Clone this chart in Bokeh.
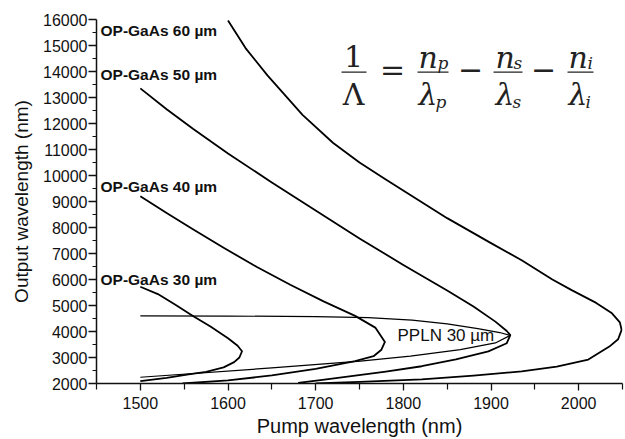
from bokeh.plotting import figure
from bokeh.models import Label, FixedTicker, Range1d
from bokeh.embed import file_html
from bokeh.resources import INLINE

# ---------------- data ----------------
x_ticks = [1500, 1600, 1700, 1800, 1900, 2000]
x_minor = [1450, 1550, 1650, 1750, 1850, 1950, 2050]
y_ticks = list(range(2000, 16001, 1000))
y_minor = list(range(2500, 16000, 1000))

gaas30_pump = [1500, 1520, 1540, 1560, 1580, 1600, 1611, 1616, 1613, 1607, 1595, 1575, 1555, 1530, 1500]
gaas30_out = [5720, 5440, 5030, 4600, 4190, 3740, 3450, 3240, 3000, 2820, 2620, 2450, 2350, 2220, 2090]

gaas40_pump = [1500, 1530, 1560, 1595, 1633, 1671, 1709, 1745, 1768, 1779, 1775, 1766, 1745, 1700, 1650, 1600, 1548]
gaas40_out = [9200, 8560, 7930, 7220, 6480, 5800, 5160, 4600, 4150, 3600, 3300, 3050, 2860, 2560, 2310, 2120, 2000]

gaas50_pump = [1500, 1530, 1560, 1600, 1650, 1700, 1750, 1800, 1850, 1880, 1905, 1918, 1922,
               1918, 1897, 1860, 1821, 1780, 1745, 1710, 1680]
gaas50_out = [13350, 12550, 11800, 10850, 9730, 8650, 7580, 6560, 5580, 4960, 4380, 4020, 3860,
              3550, 3237, 2930, 2664, 2460, 2305, 2150, 2020]

gaas60_pump = [1600, 1620, 1645, 1685, 1720, 1750, 1780, 1850, 1900, 1935, 1970, 1992, 2020, 2038,
               2047, 2049, 2045, 2035, 2011, 1975, 1935, 1880, 1821, 1750, 1700]
gaas60_out = [15960, 14900, 13850, 12330, 11250, 10500, 9850, 8360, 7400, 6740, 6000, 5590, 5100, 4700,
              4350, 4060, 3700, 3420, 2920, 2650, 2470, 2300, 2160, 2060, 2000]

ppln30_pump = [1500, 1600, 1700, 1760, 1810, 1850, 1885, 1910, 1922, 1905, 1865, 1808, 1751, 1650, 1500]
ppln30_out = [4600, 4595, 4570, 4530, 4440, 4290, 4110, 3960, 3850, 3560, 3300, 3050, 2860, 2600, 2240]

curve_labels = ["OP-GaAs 60 µm", "OP-GaAs 50 µm", "OP-GaAs 40 µm", "OP-GaAs 30 µm"]
ppln_label = "PPLN 30 µm"

# ---------------- figure ----------------
X0, X1, Y0, Y1 = 1450, 2050, 2000, 16000
W, H = 625, 439
FL, FR, FT, FB = 96, 622, 19, 386  # frame edges in canvas pixels


def px_x(px):
    return X0 + (px - FL) * (X1 - X0) / (FR - FL)


def px_y(py):
    return Y0 + (FB - py) * (Y1 - Y0) / (FB - FT)


p = figure(width=W, height=H, x_range=Range1d(X0, X1), y_range=Range1d(Y0, Y1),
           output_backend="svg", toolbar_location=None,
           min_border_left=FL, min_border_right=W - FR, min_border_top=FT, min_border_bottom=H - FB)
p.outline_line_color = None
p.xgrid.visible = False
p.ygrid.visible = False
p.background_fill_color = "white"
p.border_fill_color = "white"

p.xaxis.ticker = FixedTicker(ticks=x_ticks, minor_ticks=x_minor)
p.yaxis.ticker = FixedTicker(ticks=y_ticks, minor_ticks=y_minor)

for ax in (p.xaxis[0], p.yaxis[0]):
    ax.axis_line_color = "#111111"
    ax.axis_line_width = 1.5
    ax.major_tick_line_color = "#111111"
    ax.minor_tick_line_color = "#111111"
    ax.major_tick_line_width = 1.3
    ax.minor_tick_line_width = 1.2
    ax.major_tick_in = 0
    ax.minor_tick_in = 0
    ax.major_label_text_font = "Liberation Sans"
    ax.major_label_text_font_size = "16px"
    ax.major_label_text_color = "#111111"
    ax.axis_label_text_font = "Liberation Sans"
    ax.axis_label_text_font_style = "normal"
    ax.axis_label_text_color = "#111111"

p.xaxis.major_tick_out = 7
p.xaxis.minor_tick_out = 6
p.xaxis.major_label_standoff = 6
p.xaxis.axis_label = "Pump wavelength (nm)"
p.xaxis.axis_label_text_font_size = "20px"
p.xaxis.axis_label_standoff = 3

p.yaxis.major_tick_out = 8
p.yaxis.minor_tick_out = 4
p.yaxis.major_label_standoff = 1
p.yaxis.axis_label = "Output wavelength (nm)"
p.yaxis.axis_label_text_font_size = "19px"
p.yaxis.axis_label_standoff = 8

# curves
for xs, ys in [(gaas30_pump, gaas30_out), (gaas40_pump, gaas40_out),
               (gaas50_pump, gaas50_out), (gaas60_pump, gaas60_out)]:
    p.line(xs, ys, line_color="black", line_width=1.8, line_join="round")
p.line(ppln30_pump, ppln30_out, line_color="black", line_width=1.2, line_join="round")

# curve labels
for txt, py in zip(curve_labels, [30, 74, 187, 281]):
    p.add_layout(Label(x=px_x(100), y=px_y(py), text=txt, text_font="Liberation Sans",
                       text_font_style="bold", text_font_size="15.5px", text_color="#111111",
                       text_baseline="middle", text_align="left"))
p.add_layout(Label(x=px_x(397), y=px_y(338), text=ppln_label, text_font="Liberation Sans",
                   text_font_size="17px", text_color="#111111",
                   text_baseline="middle", text_align="left"))

# formula 1/Λ = n_p/λ_p − n_s/λ_s − n_i/λ_i
FONT = "DejaVu Serif"
FCOL = "#222222"
SHIFT = -6  # empirical baseline correction


def ftext(txt, px, py, size, style="normal", align="left"):
    p.add_layout(Label(x=px_x(px), y=px_y(py + SHIFT), text=txt, text_font=FONT, text_font_style=style,
                       text_font_size=size, text_color=FCOL, text_align=align,
                       text_baseline="alphabetic"))


ftext("1", 353, 62, "30px", align="center")
ftext("Λ", 353, 101, "30px", align="center")
ftext("=", 392, 75, "30px", align="center")
ftext("\u2212", 470, 75, "30px", align="center")
ftext("\u2212", 543, 75, "30px", align="center")
for nx, sub, subx, lsubx in [(418, "p", 437, 435), (495, "s", 513, 512), (568, "i", 587, 585)]:
    ftext("n", nx, 63, "30px", style="italic")
    ftext(sub, subx, 69, "17px", style="italic")
    ftext("λ", nx, 101, "30px", style="italic")
    ftext(sub, lsubx, 108, "17px", style="italic")

bars = [(341, 366), (417, 448), (493, 522), (567, 593)]
p.segment(x0=[px_x(a) for a, b in bars], y0=[px_y(72)] * 4,
          x1=[px_x(b) for a, b in bars], y1=[px_y(72)] * 4,
          line_color=FCOL, line_width=1.3)

open("out.html", "w").write(file_html(p, INLINE))
